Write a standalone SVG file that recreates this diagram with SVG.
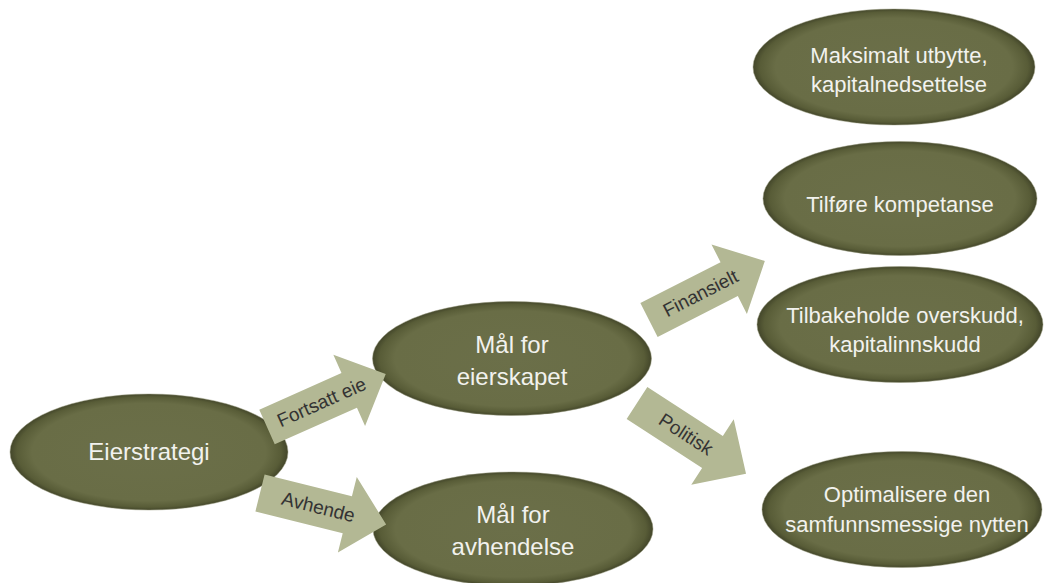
<svg xmlns="http://www.w3.org/2000/svg" width="1044" height="583" viewBox="0 0 1044 583">
<defs>
<radialGradient id="eg" cx="0.5" cy="0.5" r="0.5">
<stop offset="0" stop-color="#6b6f49"/>
<stop offset="0.84" stop-color="#696d46"/>
<stop offset="0.95" stop-color="#585c37"/>
<stop offset="1" stop-color="#43462a"/>
</radialGradient>
<path id="arr" d="M0,-19 H90 V-39 L130,0 L90,39 V19 H0 Z"/>
</defs>
<style>
.node ellipse{fill:url(#eg);stroke:#9a9c80;stroke-width:0.8;stroke-opacity:0.6}
.lbl{font-family:"Liberation Sans",Arial,sans-serif;fill:#f2f2ee;text-anchor:middle}
.big{font-size:24px}
.sm{font-size:22px}
.arrow use{fill:#b3b894}
.atxt{font-family:"Liberation Sans",Arial,sans-serif;font-size:19px;fill:#333;text-anchor:middle}
</style>
<rect width="1044" height="583" fill="#ffffff"/>
<g id="node-eierstrategi" class="node">
<ellipse cx="149" cy="452" rx="139" ry="58"/>
<text class="lbl big" x="149" y="460">Eierstrategi</text>
</g>
<g id="node-mal-eierskapet" class="node">
<ellipse cx="512" cy="358.5" rx="139.5" ry="57"/>
<text class="lbl big" x="512" y="353">Mål for</text>
<text class="lbl big" x="512" y="385">eierskapet</text>
</g>
<g id="node-mal-avhendelse" class="node">
<ellipse cx="513" cy="529" rx="140" ry="57"/>
<text class="lbl big" x="513" y="523">Mål for</text>
<text class="lbl big" x="513" y="555">avhendelse</text>
</g>
<g id="node-maksimalt" class="node">
<ellipse cx="894" cy="67" rx="141" ry="58"/>
<text class="lbl sm" x="899" y="63">Maksimalt utbytte,</text>
<text class="lbl sm" x="899" y="92">kapitalnedsettelse</text>
</g>
<g id="node-tilfore" class="node">
<ellipse cx="900" cy="198.5" rx="137" ry="57"/>
<text class="lbl sm" x="900" y="212">Tilføre kompetanse</text>
</g>
<g id="node-tilbakeholde" class="node">
<ellipse cx="900" cy="324.5" rx="143" ry="58"/>
<text class="lbl sm" x="905" y="323">Tilbakeholde overskudd,</text>
<text class="lbl sm" x="905" y="352">kapitalinnskudd</text>
</g>
<g id="node-optimalisere" class="node">
<ellipse cx="902" cy="509.5" rx="140" ry="58"/>
<text class="lbl sm" x="907" y="502">Optimalisere den</text>
<text class="lbl sm" x="907" y="532">samfunnsmessige nytten</text>
</g>
<g id="connectors">
<g class="arrow" transform="translate(267,427) rotate(-24)">
<use href="#arr"/>
<text class="atxt" x="60" y="6">Fortsatt eie</text>
</g>
<g class="arrow" transform="translate(260,493) rotate(14)">
<use href="#arr"/>
<text class="atxt" x="60" y="6">Avhende</text>
</g>
<g class="arrow" transform="translate(649,320) rotate(-27)">
<use href="#arr"/>
<text class="atxt" x="58" y="6">Finansielt</text>
</g>
<g class="arrow" transform="translate(637,403) rotate(33)">
<use href="#arr"/>
<text class="atxt" x="58" y="6">Politisk</text>
</g>
</g>
</svg>
